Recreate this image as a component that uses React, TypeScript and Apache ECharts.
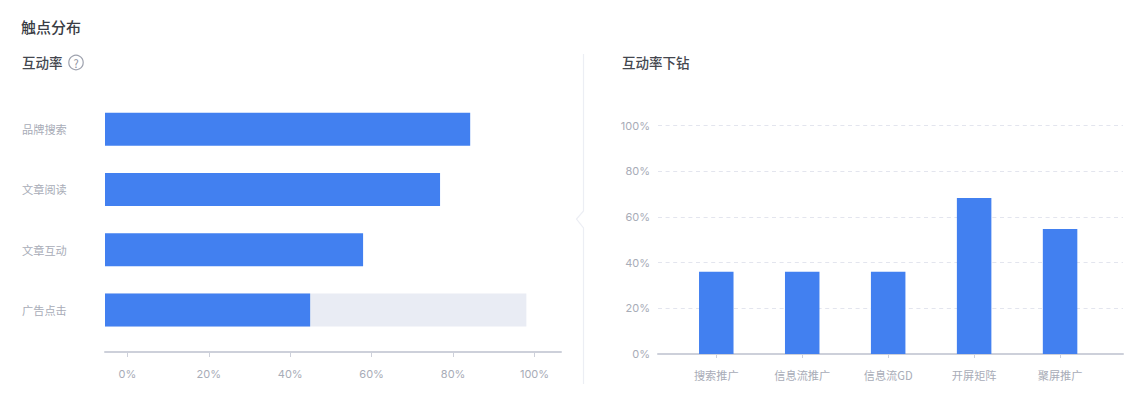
import React, { useEffect, useRef } from "react";
import * as echarts from "echarts";

const touchCategories = ["品牌搜索", "文章阅读", "文章互动", "广告点击"];
const touchValues = [84.2, 76.8, 57.9, 44.9];
const touchBackground = [null, null, null, 98];
const percentTicks = [0, 20, 40, 60, 80, 100];
const drillCategories = ["搜索推广", "信息流推广", "信息流GD", "开屏矩阵", "聚屏推广"];
const drillValues = [36, 36, 36, 68.3, 54.7];

const FONT = '"Noto Sans CJK SC", "Noto Sans", sans-serif';
const NUM_FONT = 'Inter, "Noto Sans", sans-serif';
const BLUE = "#4280f0";
const LABEL = "#a8acb7";
const AXIS = "#cdd0da";
const W = 1140;
const H = 403;

const pct = (v: number) => `${v}%`;

export default function App() {
  const ref = useRef<HTMLDivElement>(null);
  useEffect(() => {
    document.body.style.margin = "0";
    document.body.style.background = "#fff";
    const chart = echarts.init(ref.current!, undefined, { renderer: "svg" });
    chart.setOption({
      animation: false,
      backgroundColor: "#fff",
      textStyle: { fontFamily: FONT },
      grid: [
        { left: 105, width: 456, top: 99, height: 241 },
        { left: 658, width: 465, top: 125.5, height: 228.5 },
        { left: 673.3, width: 429.75, top: 125.5, height: 228.5 },
      ],
      xAxis: [
        {
          gridIndex: 0,
          type: "value",
          min: -5.48,
          max: 106.5,
          startValue: -5.48,
          offset: 12,
          splitLine: { show: false },
          axisLine: { show: true, lineStyle: { color: AXIS, width: 2 } },
          axisTick: { show: true, length: 5, customValues: percentTicks, lineStyle: { color: AXIS } },
          axisLabel: { customValues: percentTicks, formatter: pct, color: LABEL, fontSize: 11, margin: 16, fontFamily: NUM_FONT },
        },
        {
          gridIndex: 1,
          type: "category",
          data: drillCategories,
          axisLine: { show: true, lineStyle: { color: AXIS, width: 2 } },
          axisTick: { show: false },
          axisLabel: { show: false },
        },
        {
          gridIndex: 2,
          type: "category",
          data: drillCategories,
          axisLine: { show: false },
          axisTick: { show: true, length: 4, alignWithLabel: true, lineStyle: { color: AXIS } },
          axisLabel: { color: LABEL, fontSize: 11.2, margin: 15, interval: 0, fontFamily: FONT },
        },
      ],
      yAxis: [
        {
          gridIndex: 0,
          type: "category",
          inverse: true,
          data: touchCategories,
          axisLine: { show: false },
          axisTick: { show: false },
          axisLabel: { color: LABEL, fontSize: 11.2, align: "left", margin: 83, fontFamily: FONT },
        },
        {
          gridIndex: 1,
          type: "value",
          min: 0,
          max: 100,
          interval: 20,
          axisLine: { show: false },
          axisTick: { show: false },
          axisLabel: { formatter: pct, color: LABEL, fontSize: 11, margin: 8, fontFamily: NUM_FONT },
          splitLine: { show: true, lineStyle: { color: "#e3e5ee", type: [4, 3.6], width: 1 } },
        },
        {
          gridIndex: 2,
          type: "value",
          min: 0,
          max: 100,
          interval: 20,
          show: false,
        },
      ],
      series: [
        {
          type: "bar",
          xAxisIndex: 0,
          yAxisIndex: 0,
          data: touchBackground,
          barWidth: 33,
          barGap: "-100%",
          itemStyle: { color: "#e9ecf4" },
          silent: true,
          z: 1,
        },
        {
          type: "bar",
          xAxisIndex: 0,
          yAxisIndex: 0,
          data: touchValues,
          barWidth: 33,
          barGap: "-100%",
          itemStyle: { color: BLUE },
          z: 2,
        },
        {
          type: "bar",
          xAxisIndex: 2,
          yAxisIndex: 2,
          data: drillValues,
          barWidth: 34.5,
          itemStyle: { color: BLUE },
          z: 3,
        },
      ],
      graphic: [
        { type: "text", x: 21, y: 19, style: { text: "触点分布", fontSize: 15, fontWeight: 500, fill: "#3a3d45", fontFamily: FONT } },
        { type: "text", x: 22, y: 55, style: { text: "互动率", fontSize: 13.5, fontWeight: 500, fill: "#44474f", fontFamily: FONT } },
        { type: "text", x: 622, y: 55, style: { text: "互动率下钻", fontSize: 13.5, fontWeight: 500, fill: "#44474f", fontFamily: FONT } },
        { type: "circle", shape: { cx: 76, cy: 62.5, r: 7.2 }, style: { fill: "none", stroke: "#9ea2ae", lineWidth: 1.2 } },
        { type: "text", x: 76, y: 62.5, style: { text: "?", fontSize: 11, fill: "#8d919e", align: "center", verticalAlign: "middle", fontFamily: FONT } },
        {
          type: "polyline",
          shape: { points: [[583.5, 54], [583.5, 211], [576.5, 219], [583.5, 228], [583.5, 384]] },
          style: { fill: "none", stroke: "#eceef4", lineWidth: 1.2 },
        },
      ],
    });
    return () => chart.dispose();
  }, []);
  return <div ref={ref} style={{ width: W, height: H, position: "absolute", left: 0, top: 0 }} />;
}
